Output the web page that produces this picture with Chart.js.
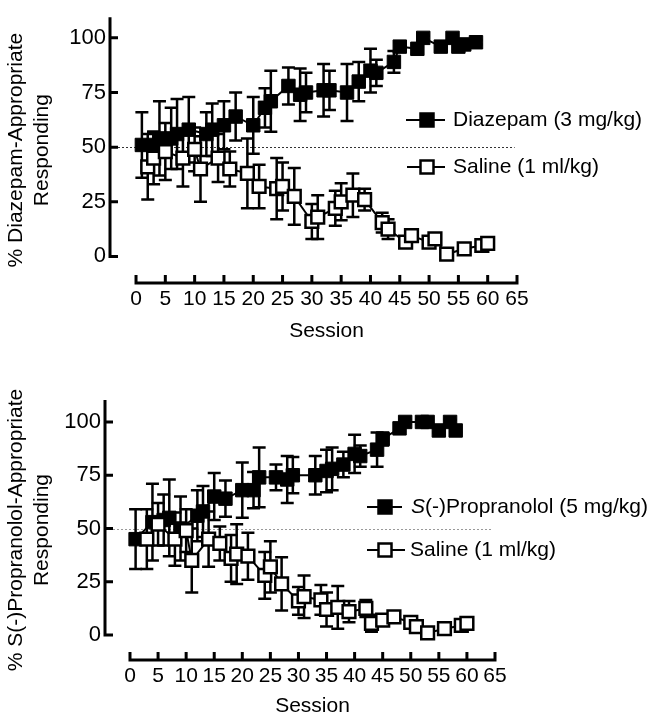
<!DOCTYPE html>
<html>
<head>
<meta charset="utf-8">
<script src="https://cdn.jsdelivr.net/npm/chart.js@4.4.1/dist/chart.umd.min.js"></script>
<style>
  html, body { margin: 0; padding: 0; background: #fff; overflow: hidden; }
  canvas { display: block; }
</style>
</head>
<body>
<canvas id="topChart" width="647" height="350"></canvas>
<canvas id="bottomChart" width="647" height="365"></canvas>
<script>
  // axis ticks
  const xTicks = [0, 5, 10, 15, 20, 25, 30, 35, 40, 45, 50, 55, 60, 65];
  const yTicks = [0, 25, 50, 75, 100];

  // top panel - diazepam (3 mg/kg)
  const diazSessions = [1, 3, 4, 6, 7, 9, 12, 13, 15, 17, 20, 22, 23, 26, 28, 29, 32, 33, 36, 38, 40, 41, 44, 45, 48, 49, 52, 54, 55, 56, 58];
  const diazValues = [51, 51, 54, 54, 56, 58, 56, 58, 60, 64, 60, 68, 71, 78, 74, 75, 76, 76, 75, 80, 85, 84, 89, 96, 95, 100, 96, 100, 96, 97, 98];
  const diazErrors = [15, 6, 17, 14, 16, 15, 10, 12, 11, 11, 13, 9, 14, 8.5, 12, 9, 12, 9, 13, 9, 10, 6, 5, 2, 2, 1, 2, 1, 2, 2, 1];

  // top panel - saline (1 ml/kg)
  const salTopSessions = [2, 3, 5, 8, 10, 11, 14, 16, 19, 21, 24, 25, 27, 30, 31, 34, 35, 37, 39, 42, 43, 46, 47, 50, 51, 53, 56, 59, 60];
  const salTopValues = [41, 45, 48, 45, 49, 40, 45, 40, 38, 32, 31, 32, 27.5, 16, 18, 22, 25, 28, 26, 15.5, 12.5, 6.5, 9.5, 6.5, 8, 1, 3.5, 5, 6];
  const salTopErrors = [15, 12, 13, 13, 10, 15, 11, 8, 16, 10, 14, 11, 13, 8, 10, 8, 8.5, 10, 5, 4.5, 4.5, 1, 1, 1, 1, 1, 1, 1, 1];

  // bottom panel - S(-)propranolol (5 mg/kg)
  const propSessions = [1, 4, 6, 7, 9, 12, 13, 15, 17, 20, 22, 23, 26, 28, 29, 33, 35, 36, 38, 40, 41, 44, 45, 48, 49, 52, 53, 55, 57, 58];
  const propValues = [45, 53, 54, 55, 50, 56, 58, 65, 64, 68, 68, 74, 74, 73, 75, 75, 77, 78, 80, 85, 84, 87, 92, 97, 100, 100, 100, 96, 100, 96];
  const propErrors = [14, 18, 12, 18, 15, 12, 12, 11, 8.5, 13, 8.5, 14, 6, 11, 8.5, 9, 10, 10, 6, 9, 5, 8, 3, 1, 1, 1, 1, 1, 1, 1];

  // bottom panel - saline (1 ml/kg)
  const salBotSessions = [3, 5, 8, 10, 11, 14, 16, 18, 19, 21, 24, 25, 27, 30, 31, 34, 35, 37, 39, 42, 43, 45, 47, 50, 51, 53, 56, 59, 60];
  const salBotValues = [45, 52, 45, 49, 35, 45, 43, 36, 38, 37, 28, 32, 24, 16, 18, 16.5, 12, 13, 11, 12.5, 5.5, 7, 8.5, 6, 4, 1, 3, 4.5, 5.5];
  const salBotErrors = [14, 10, 12.5, 10, 15, 13, 8, 11, 14, 11, 11, 12, 12.5, 6.5, 10, 7, 8, 10, 5, 4, 4, 1, 1, 1, 1, 1, 1, 1, 1];

  const FONT = "'Liberation Sans', Arial, Helvetica, sans-serif";
  Chart.defaults.font.family = FONT;
  Chart.defaults.color = '#000';

  function points(sessions, values) {
    return sessions.map((s, i) => ({ x: s, y: values[i] }));
  }

  // error bars drawn just before each dataset so markers sit on top
  const errorBars = {
    id: 'errorBars',
    beforeDatasetDraw(chart, args) {
      const ds = chart.data.datasets[args.index];
      if (!ds.errors) return;
      const xs = chart.scales.x, ys = chart.scales.y, ctx = chart.ctx;
      ctx.save();
      ctx.strokeStyle = '#000';
      ctx.lineWidth = 2.5;
      ds.data.forEach((p, i) => {
        const e = ds.errors[i];
        const px = xs.getPixelForValue(p.x);
        const t = ys.getPixelForValue(p.y + e);
        const b = ys.getPixelForValue(p.y - e);
        ctx.beginPath();
        ctx.moveTo(px, t); ctx.lineTo(px, b);
        ctx.moveTo(px - 6.5, t); ctx.lineTo(px + 6.5, t);
        ctx.moveTo(px - 6.5, b); ctx.lineTo(px + 6.5, b);
        ctx.stroke();
      });
      ctx.restore();
    }
  };

  // detached axes with inward ticks, dotted 50% line, x title, legend
  const frame = {
    id: 'frame',
    beforeDatasetsDraw(chart, args, opts) {
      const ctx = chart.ctx, xs = chart.scales.x, ys = chart.scales.y;
      const area = chart.chartArea;
      ctx.save();
      // dotted line at 50%
      ctx.strokeStyle = opts.refColor;
      ctx.lineWidth = 1;
      ctx.setLineDash([2, 2]);
      ctx.beginPath();
      const ry = Math.round(ys.getPixelForValue(50)) + 0.5;
      ctx.moveTo(area.left, ry);
      ctx.lineTo(xs.getPixelForValue(64.6), ry);
      ctx.stroke();
      ctx.setLineDash([]);

      ctx.strokeStyle = '#000';
      ctx.lineWidth = 3;
      // y axis
      ctx.beginPath();
      ctx.moveTo(area.left, area.top);
      ctx.lineTo(area.left, ys.getPixelForValue(0) + 1.5);
      yTicks.forEach(v => {
        const y = ys.getPixelForValue(v);
        ctx.moveTo(area.left, y);
        ctx.lineTo(area.left + 8, y);
      });
      // x axis
      const x0 = xs.getPixelForValue(xTicks[0]);
      const x1 = xs.getPixelForValue(xTicks[xTicks.length - 1]);
      ctx.moveTo(x0 - 1.5, area.bottom);
      ctx.lineTo(x1 + 1.5, area.bottom);
      xTicks.forEach(v => {
        const x = xs.getPixelForValue(v);
        ctx.moveTo(x, area.bottom);
        ctx.lineTo(x, area.bottom - 8);
      });
      ctx.stroke();

      // x title centred under the detached axis line
      ctx.fillStyle = '#000';
      ctx.font = '21px ' + FONT;
      ctx.textAlign = 'center';
      ctx.textBaseline = 'middle';
      ctx.fillText('Session', (x0 + x1) / 2, opts.xTitleY);
      ctx.restore();
    },
    afterDraw(chart, args, opts) {
      const ctx = chart.ctx;
      ctx.save();
      opts.legend.forEach(it => {
        ctx.strokeStyle = '#000';
        ctx.lineWidth = 2;
        ctx.beginPath();
        ctx.moveTo(it.x1, it.y);
        ctx.lineTo(it.x2, it.y);
        ctx.stroke();
        const h = 6.5;
        ctx.fillStyle = it.filled ? '#000' : '#fff';
        ctx.fillRect(it.mx - h, it.y - h, 2 * h, 2 * h);
        ctx.lineWidth = 2.5;
        ctx.strokeRect(it.mx - h, it.y - h, 2 * h, 2 * h);
        ctx.fillStyle = '#000';
        ctx.textBaseline = 'middle';
        ctx.textAlign = 'left';
        let tx = it.tx;
        it.parts.forEach(p => {
          ctx.font = (p.italic ? 'italic ' : '') + '21px ' + FONT;
          ctx.fillText(p.text, tx, it.y);
          tx += ctx.measureText(p.text).width;
        });
      });
      ctx.restore();
    }
  };

  function makeChart(id, cfg) {
    return new Chart(document.getElementById(id), {
      type: 'scatter',
      data: {
        datasets: [
          {
            data: points(cfg.drug.sessions, cfg.drug.values),
            errors: cfg.drug.errors,
            showLine: true,
            borderColor: '#000', borderWidth: 2,
            pointStyle: 'rect', pointRadius: 9.5,
            pointBackgroundColor: '#000', pointBorderColor: '#000', pointBorderWidth: 1,
            order: 1
          },
          {
            data: points(cfg.sal.sessions, cfg.sal.values),
            errors: cfg.sal.errors,
            showLine: true,
            borderColor: '#000', borderWidth: 2,
            pointStyle: 'rect', pointRadius: 9,
            pointBackgroundColor: '#fff', pointBorderColor: '#000', pointBorderWidth: 2.5,
            order: 0
          }
        ]
      },
      options: {
        responsive: false,
        animation: false,
        events: [],
        layout: { padding: cfg.padding },
        plugins: {
          legend: { display: false },
          tooltip: { enabled: false },
          frame: { refColor: cfg.refColor, legend: cfg.legend, xTitleY: cfg.xTitleY }
        },
        scales: {
          x: {
            type: 'linear', min: cfg.xMin, max: 65,
            grid: { display: false, drawTicks: false },
            border: { display: false },
            afterBuildTicks: s => { s.ticks = xTicks.map(v => ({ value: v })); },
            afterFit: s => { s.height = cfg.xHeight; },
            ticks: { font: { size: 21 }, color: '#000', padding: 4, maxRotation: 0, autoSkip: false }
          },
          y: {
            type: 'linear', min: cfg.yMin, max: cfg.yMax,
            grid: { display: false, drawTicks: false },
            border: { display: false },
            afterBuildTicks: s => { s.ticks = yTicks.map(v => ({ value: v })); },
            afterFit: s => { s.width = cfg.yWidth; },
            ticks: { font: { size: 22 }, color: '#000', padding: 4 },
            title: { display: true, text: cfg.yTitle, font: { size: 21 }, color: '#000', padding: { top: 4, bottom: 0 } }
          }
        }
      },
      plugins: [errorBars, frame]
    });
  }

  makeChart('topChart', {
    drug: { sessions: diazSessions, values: diazValues, errors: diazErrors },
    sal: { sessions: salTopSessions, values: salTopValues, errors: salTopErrors },
    padding: { top: 13, right: 130, left: 0, bottom: 0 },
    xMin: -4.44, yMin: -12.16, yMax: 109.46,
    xHeight: 67, yWidth: 110, xTitleY: 331,
    refColor: '#333',
    yTitle: ['% Diazepam-Appropriate', 'Responding'],
    legend: [
      { x1: 406, x2: 445, mx: 427, y: 120, tx: 453, filled: true, parts: [{ text: 'Diazepam (3 mg/kg)' }] },
      { x1: 407, x2: 445, mx: 427, y: 167, tx: 453, filled: false, parts: [{ text: 'Saline (1 ml/kg)' }] }
    ]
  });

  makeChart('bottomChart', {
    drug: { sessions: propSessions, values: propValues, errors: propErrors },
    sal: { sessions: salBotSessions, values: salBotValues, errors: salBotErrors },
    padding: { top: 50, right: 152, left: 0, bottom: 0 },
    xMin: -4.45, yMin: -11.7, yMax: 110.3,
    xHeight: 55, yWidth: 105, xTitleY: 356,
    refColor: '#999',
    yTitle: ['% S(-)Propranolol-Appropriate', 'Responding'],
    legend: [
      { x1: 367, x2: 402, mx: 385, y: 157, tx: 411, filled: true, parts: [{ text: 'S', italic: true }, { text: '(-)Propranolol (5 mg/kg)' }] },
      { x1: 367, x2: 405, mx: 385, y: 200, tx: 410, filled: false, parts: [{ text: 'Saline (1 ml/kg)' }] }
    ]
  });
</script>
</body>
</html>
